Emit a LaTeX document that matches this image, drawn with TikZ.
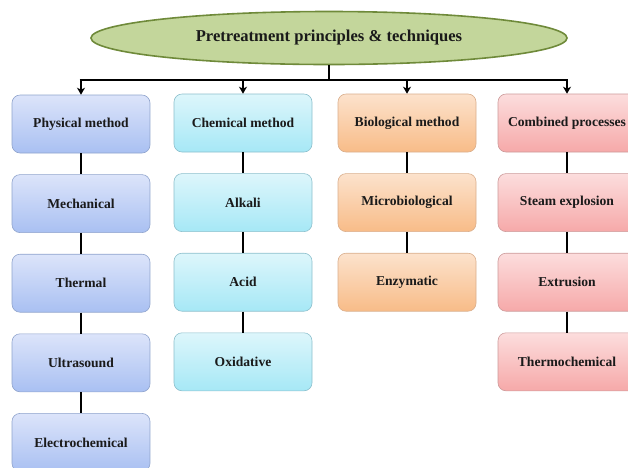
\documentclass[tikz,border=0pt]{standalone}
\usepackage{fontspec}
\setmainfont{Liberation Serif}
\usepackage{tikz}
\usetikzlibrary{positioning, shapes.geometric, calc, arrows.meta}

\definecolor{PhysTop}{HTML}{DCE4FA}
\definecolor{PhysBot}{HTML}{A9C0F2}
\definecolor{PhysLine}{HTML}{8FA3CC}
\definecolor{ChemTop}{HTML}{DDF6FB}
\definecolor{ChemBot}{HTML}{A6E8F6}
\definecolor{ChemLine}{HTML}{8CBFCC}
\definecolor{BioTop}{HTML}{FCE2CC}
\definecolor{BioBot}{HTML}{F8BC88}
\definecolor{BioLine}{HTML}{D9AE8C}
\definecolor{CombTop}{HTML}{FCDDDD}
\definecolor{CombBot}{HTML}{F6A9A9}
\definecolor{CombLine}{HTML}{CC9A9A}
\definecolor{TitleFill}{HTML}{C3D69B}
\definecolor{TitleLine}{HTML}{6F8A3A}
\definecolor{TextDark}{HTML}{1A1A1A}

\begin{document}
\begin{tikzpicture}[x=1pt, y=1pt, node distance=21pt]
    \tikzset{BoxStyle/.style = {rectangle, rounded corners=8pt, minimum width=138pt, minimum height=58pt, inner sep=2pt, line width=0.6pt, align=center, text=TextDark, font=\fontsize{13.6}{15}\selectfont\bfseries}}
    \tikzset{PhysBox/.style = {BoxStyle, draw=PhysLine, top color=PhysTop, bottom color=PhysBot}}
    \tikzset{ChemBox/.style = {BoxStyle, draw=ChemLine, top color=ChemTop, bottom color=ChemBot}}
    \tikzset{BioBox/.style = {BoxStyle, draw=BioLine, top color=BioTop, bottom color=BioBot}}
    \tikzset{CombBox/.style = {BoxStyle, draw=CombLine, top color=CombTop, bottom color=CombBot}}
    \tikzset{LinkStyle/.style = {line width=2.6pt, color=black}}
    \tikzset{ArrowStyle/.style = {line width=1.6pt, -{Stealth[length=7pt, width=8pt, inset=2pt]}, color=black}}
    \useasboundingbox (0, 0) rectangle (628, -467);
    % title
    \node[ellipse, draw=TitleLine, line width=1.6pt, fill=TitleFill, minimum width=476pt, minimum height=53pt, text=TextDark, font=\fontsize{16.6}{19}\selectfont\bfseries] (pt) at (329, -38) {Pretreatment principles \& techniques};
    % column heads
    \node[PhysBox] (phys) at (81, -124) {Physical method};
    \node[ChemBox] (chem) at (243, -123) {Chemical method};
    \node[BioBox] (bio) at (407, -123) {Biological method};
    \node[CombBox] (comb) at (567, -123) {Combined processes};
    % physical
    \node[PhysBox, below=of phys] (mech) {Mechanical};
    \node[PhysBox, below=of mech] (therm) {Thermal};
    \node[PhysBox, below=of therm] (ultra) {Ultrasound};
    \node[PhysBox, below=of ultra] (elec) {Electrochemical};
    % chemical
    \node[ChemBox, below=of chem] (alk) {Alkali};
    \node[ChemBox, below=of alk] (acid) {Acid};
    \node[ChemBox, below=of acid] (oxi) {Oxidative};
    % biological
    \node[BioBox, below=of bio] (micro) {Microbiological};
    \node[BioBox, below=of micro] (enz) {Enzymatic};
    % combined
    \node[CombBox, below=of comb] (steam) {Steam explosion};
    \node[CombBox, below=of steam] (extr) {Extrusion};
    \node[CombBox, below=of extr] (tchem) {Thermochemical};
    % distribution bar
    \coordinate (bar) at (329, -80);
    \draw[LinkStyle] (pt.south) -- (bar);
    \draw[LinkStyle] ($(phys.north |- bar)-(1.3,0)$) -- ($(comb.north |- bar)+(1.3,0)$);
    \draw[ArrowStyle] (phys.north |- bar) -- (phys.north);
    \draw[ArrowStyle] (chem.north |- bar) -- (chem.north);
    \draw[ArrowStyle] (bio.north |- bar) -- (bio.north);
    \draw[ArrowStyle] (comb.north |- bar) -- (comb.north);
    % vertical links
    \draw[LinkStyle] (phys) -- (mech);
    \draw[LinkStyle] (mech) -- (therm);
    \draw[LinkStyle] (therm) -- (ultra);
    \draw[LinkStyle] (ultra) -- (elec);
    \draw[LinkStyle] (chem) -- (alk);
    \draw[LinkStyle] (alk) -- (acid);
    \draw[LinkStyle] (acid) -- (oxi);
    \draw[LinkStyle] (bio) -- (micro);
    \draw[LinkStyle] (micro) -- (enz);
    \draw[LinkStyle] (comb) -- (steam);
    \draw[LinkStyle] (steam) -- (extr);
    \draw[LinkStyle] (extr) -- (tchem);
\end{tikzpicture}
\end{document}
